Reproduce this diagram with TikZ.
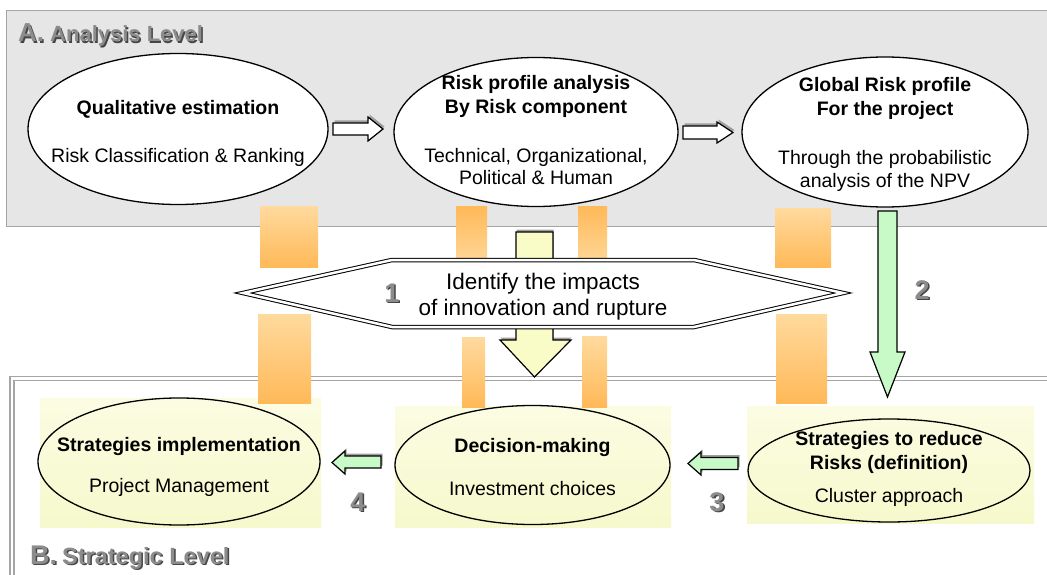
\documentclass[tikz,border=0pt]{standalone}
\usepackage{fontspec}
\setmainfont{Liberation Sans}
\usetikzlibrary{shapes.geometric,calc}

\definecolor{panelgray}{RGB}{230,230,230}
\definecolor{framegray}{RGB}{165,165,165}
\definecolor{barlight}{RGB}{255,218,158}
\definecolor{bardark}{RGB}{255,185,88}
\definecolor{paleyellow}{RGB}{250,252,200}
\definecolor{bgyellow}{RGB}{251,252,226}
\definecolor{bgyellowdark}{RGB}{246,249,204}
\definecolor{palegreen}{RGB}{200,250,200}
\definecolor{titlegray}{RGB}{140,140,140}
\definecolor{titleshade}{RGB}{70,70,70}

\tikzset{
  riskell/.style={ellipse, draw, line width=1.3pt, fill=white, inner sep=0pt},
  stratell/.style={ellipse, draw, line width=1.3pt, inner sep=0pt},
  elltext/.style={align=center, inner sep=0pt, font=\fontsize{19.5}{24}\selectfont},
  orangebar/.style={top color=barlight, bottom color=bardark},
  orangebarup/.style={top color=bardark, bottom color=barlight},
  yellowbg/.style={top color=bgyellow, bottom color=bgyellowdark},
  blockarrow/.style={draw, line width=1.2pt, line join=miter},
  blockshadow/.style={fill=gray!75, shift={(1.5,-2.5)}},
  titleshadow/.style={anchor=base west, inner sep=0pt, text=titleshade, font=\bfseries},
  titletext/.style={anchor=base west, inner sep=0pt, text=titlegray, font=\bfseries},
  numshadow/.style={inner sep=0pt, text=titleshade, font=\fontsize{27}{27}\selectfont\bfseries},
  numlabel/.style={inner sep=0pt, text=titlegray, font=\fontsize{27}{27}\selectfont\bfseries}
}

\begin{document}
\begin{tikzpicture}[x=1pt, y=-1pt]
\useasboundingbox (0,0) rectangle (1047,575);

% A. analysis panel
\filldraw[fill=panelgray, draw=framegray, line width=1.5pt] (6.5,10.5) rectangle (1060,226.5);
% B. strategic panel (double frame)
\draw[framegray, line width=1.3pt, double=white, double distance=2.5pt] (12,590) -- (12,378.5) -- (1060,378.5);

% backgrounds of the strategic boxes
\shade[yellowbg] (40,398) rectangle (321,527);
\shade[yellowbg] (395,406) rectangle (671,527);
\shade[yellowbg] (747,406) rectangle (1034,523);

% orange bars between the two levels
\shade[orangebar] (260,206) rectangle (318,267);
\shade[orangebarup] (456,206) rectangle (487,268);
\shade[orangebarup] (578,206) rectangle (607,268);
\shade[orangebar] (775,208) rectangle (831,267);
\shade[orangebar] (258,314) rectangle (311,403);
\shade[orangebar] (462,337) rectangle (485,407);
\shade[orangebar] (582,336) rectangle (607,407);
\shade[orangebar] (776,314) rectangle (827,403);

% impact arrow (behind the hexagon)
\fill[blockshadow, shift={(-1,0)}] (516,232) -- (553,232) -- (553,340) -- (571,340) -- (534.5,377) -- (500,340) -- (516,340) -- cycle;
\filldraw[blockarrow, fill=paleyellow] (516,232) -- (553,232) -- (553,340) -- (571,340) -- (534.5,377) -- (500,340) -- (516,340) -- cycle;

% hexagon
\draw[line width=1pt, double=white, double distance=2.5pt, fill=white]
  (243,293) -- (392,260) -- (694,260) -- (843,293) -- (694,327) -- (392,327) -- cycle;
\node[align=center, inner sep=0pt, font=\fontsize{22.5}{26}\selectfont] (impact) at (543,296.5)
  {Identify the impacts\\of innovation and rupture};

% analysis level
\node[riskell, minimum width=300pt, minimum height=151pt] (qual) at (178,129) {};
\node[elltext] (qualt) at ($(qual)+(0,4)$) {\textbf{Qualitative estimation}\\[24pt]Risk Classification \& Ranking};
\node[riskell, minimum width=284pt, minimum height=149pt] (prof) at (536,132) {};
\node[elltext] (proft) at ($(prof)+(0,-1.5)$) {\textbf{Risk profile analysis}\\\textbf{By Risk component}\\[25pt]Technical, Organizational,\\[-2pt]Political \& Human};
\node[riskell, minimum width=286pt, minimum height=150pt] (glob) at (885,132) {};
\node[elltext] (globt) at ($(glob)+(0,2.5)$) {\textbf{Global Risk profile}\\\textbf{For the project}\\[25pt]Through the probabilistic\\[-1pt]analysis of the NPV};

% hollow arrows between the analysis steps
\fill[blockshadow] (333,123) -- (368,123) -- (368,117) -- (383,129) -- (368,141) -- (368,135) -- (333,135) -- cycle;
\filldraw[blockarrow, fill=white] (333,123) -- (368,123) -- (368,117) -- (383,129) -- (368,141) -- (368,135) -- (333,135) -- cycle;
\fill[blockshadow] (683,126) -- (717,126) -- (717,122) -- (733,132.5) -- (717,143) -- (717,139) -- (683,139) -- cycle;
\filldraw[blockarrow, fill=white] (683,126) -- (717,126) -- (717,122) -- (733,132.5) -- (717,143) -- (717,139) -- (683,139) -- cycle;

% strategic level
\node[stratell, minimum width=282pt, minimum height=127pt] (impl) at (179,461.5) {};
\node[elltext] (implt) at ($(impl)+(0,5)$) {\textbf{Strategies implementation}\\[17pt]Project Management};
\node[stratell, minimum width=275pt, minimum height=119pt] (dec) at (532.5,465) {};
\node[elltext] (dect) at ($(dec)+(0,2.5)$) {\textbf{Decision-making}\\[19pt]Investment choices};
\node[stratell, minimum width=282pt, minimum height=103pt] (redu) at (889,470.5) {};
\node[elltext] (redut) at ($(redu)+(0,-2)$) {\textbf{Strategies to reduce}\\\textbf{Risks (definition)}\\[9pt]Cluster approach};

% green arrows
\filldraw[blockarrow, fill=palegreen] (878,211) -- (897,211) -- (897,352) -- (905,352) -- (887.5,397) -- (870,352) -- (878,352) -- cycle;
\fill[blockshadow] (381,456) -- (345,456) -- (345,451) -- (332,462.5) -- (345,474) -- (345,468) -- (381,468) -- cycle;
\filldraw[blockarrow, fill=palegreen] (381,456) -- (345,456) -- (345,451) -- (332,462.5) -- (345,474) -- (345,468) -- (381,468) -- cycle;
\fill[blockshadow] (738,457.5) -- (701,457.5) -- (701,452) -- (688,463.5) -- (701,475) -- (701,469.5) -- (738,469.5) -- cycle;
\filldraw[blockarrow, fill=palegreen] (738,457.5) -- (701,457.5) -- (701,452) -- (688,463.5) -- (701,475) -- (701,469.5) -- (738,469.5) -- cycle;

% titles and step numbers
\node[titleshadow] (titleAs) at (19.5,43.5) {\fontsize{26}{26}\selectfont A.\hspace{6pt}\fontsize{22}{22}\selectfont Analysis Level};
\node[titletext] (titleA) at (18,42) {\fontsize{26}{26}\selectfont A.\hspace{6pt}\fontsize{22}{22}\selectfont Analysis Level};
\node[titleshadow] (titleBs) at (31.5,565.5) {\fontsize{27}{27}\selectfont B.\hspace{5pt}\fontsize{23.5}{23.5}\selectfont Strategic Level};
\node[titletext] (titleB) at (30,564) {\fontsize{27}{27}\selectfont B.\hspace{5pt}\fontsize{23.5}{23.5}\selectfont Strategic Level};
\foreach \n/\x/\y in {1/392/293, 2/922/290, 3/717/502, 4/358/502}{
  \node[numshadow] (num\n s) at (\x+1.5,\y+1.5) {\n};
  \node[numlabel] (num\n) at (\x,\y) {\n};
}
\end{tikzpicture}
\end{document}
